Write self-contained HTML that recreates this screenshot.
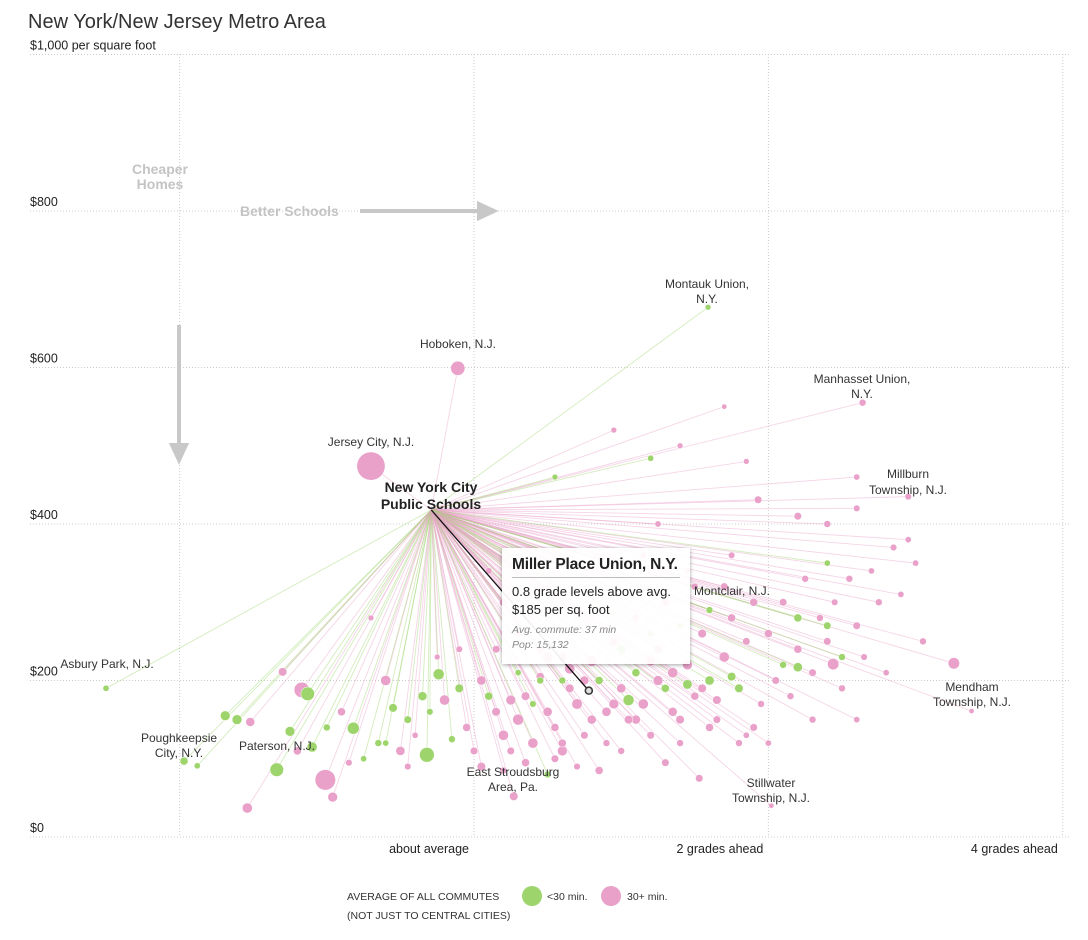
<!DOCTYPE html>
<html><head><meta charset="utf-8">
<style>
body{margin:0;background:#fff;font-family:"Liberation Sans",Arial,sans-serif;}
#wrap{position:relative;width:1088px;height:940px;overflow:hidden;}
svg{position:absolute;left:0;top:0;}
.tip{position:absolute;left:502px;top:548px;width:188px;height:116px;background:rgba(255,255,255,0.93);box-shadow:0 1px 4px rgba(0,0,0,0.35);box-sizing:border-box;padding:8px 10px;}
.tip h3{margin:0;font-size:15.5px;font-weight:bold;color:#222;border-bottom:1px solid #bbb;padding-bottom:3px;letter-spacing:-0.2px}
.tip p{margin:5px 0 0;font-size:13px;color:#222;line-height:18px}
.tip .s{font-size:10.5px;color:#888;font-style:italic;line-height:15px;margin-top:4px}
</style></head><body>
<div id="wrap">
<svg id="chart" width="1088" height="940"></svg>
<div class="tip">
<h3>Miller Place Union, N.Y.</h3>
<p>0.8 grade levels above avg.<br>$185 per sq. foot</p>
<p class="s">Avg. commute: 37 min<br>Pop: 15,132</p>
</div>
</div>
<script>
const yTicks=[0,200,400,600,800,1000];
const yTickLabels=["$0","$200","$400","$600","$800","$1,000 per square foot"];
const xTicks=[-2,0,2,4];
const xTickLabels=["","about average","2 grades ahead","4 grades ahead"];
const center=[-0.29,418];
const grades=[-0.11,-0.70,1.59,2.64,2.95,3.26,3.38,-2.50,-1.97,-1.88,-1.34,-1.01,-1.17,-1.13,0.27,2.02,-1.54,-0.32,-0.24,1.20,2.44,2.20,-0.82,-1.69,-1.61,-1.52,-1.30,1.53,-0.96,
-0.6,-0.55,-0.45,-0.5,-0.65,-0.75,-0.85,-0.9,-1.0,-1.1,-1.25,-1.2,-0.35,-0.3,-0.2,-0.1,-0.05,-0.15,0.0,-0.4,-0.25,-0.1,-0.6,-0.7,-0.45,
0.05,0.1,0.15,0.2,0.25,0.3,0.35,0.4,0.45,0.5,0.55,0.6,0.65,0.7,0.75,0.8,0.85,0.9,0.95,0.15,0.3,0.45,0.6,0.2,0.1,0.05,0.2,0.35,0.5,0.55,0.7,0.85,0.4,0.6,0.3,
1.0,1.05,1.1,1.15,1.2,1.25,1.3,1.35,1.4,1.45,1.5,1.55,1.6,1.65,1.7,1.75,1.8,1.85,1.9,1.95,1.1,1.3,1.5,1.7,1.2,1.4,1.6,1.0,1.3,1.6,1.8,1.9,1.15,1.45,1.25,1.75,1.85,
2.0,2.05,2.1,2.15,2.2,2.25,2.3,2.35,2.4,2.45,2.5,2.55,2.6,2.65,2.7,2.75,2.8,2.85,2.9,2.95,3.0,3.05,2.2,2.4,2.6,2.6,1.93,2.2,2.4,2.5,2.1,2.3,2.6,2.0,2.4,1.7,1.85,1.4,0.95,0.55,
0.65,0.9,1.05,1.25,1.4,0.5,0.75,1.0,1.35,1.55,0.25,0.45,0.8,1.1,1.45,1.65,0.6,1.2,0.95,1.75];
const prices=[599,474,677,555,435,222,161,190,97,91,86,73,188,183,52,40,37,105,208,484,221,217,139,155,150,147,211,75,51,
200,165,150,110,120,100,95,160,140,115,135,110,180,160,175,190,140,125,110,130,230,240,120,280,90,
200,180,160,130,110,150,180,120,200,160,140,110,190,170,130,150,200,120,170,240,260,240,230,300,340,90,85,95,80,100,90,85,170,200,210,
190,150,210,170,130,240,190,160,120,220,180,260,200,150,230,280,190,250,300,170,280,300,320,320,260,270,290,110,95,140,120,140,360,340,400,360,130,
260,200,300,180,240,330,210,280,250,300,190,330,270,230,340,300,210,370,310,380,350,250,410,400,420,460,431,280,270,230,220,150,150,120,350,550,480,500,520,460,
215,160,175,200,150,230,200,240,210,190,175,205,225,150,195,175,120,225,250,205];
const popsK=[50,250,3,6,5,28,2,4,10,4,45,120,60,45,12,2,20,55,25,4,28,15,32,18,18,14,12,8,18,
20,12,8,15,6,4,5,10,6,20,18,10,14,5,20,12,10,6,8,4,3,5,4,3,5,
15,10,12,20,8,25,12,20,6,15,10,18,12,22,8,14,10,6,18,8,6,10,12,10,5,12,6,10,6,8,5,10,5,6,4,
15,12,10,20,8,12,10,14,6,18,10,12,15,8,20,10,12,8,10,6,8,10,6,8,6,5,6,6,8,10,6,8,5,4,4,5,4,
10,8,8,6,10,6,8,6,8,5,6,6,8,5,4,6,4,5,4,4,4,6,8,6,5,4,8,10,8,6,6,6,4,4,4,2,3,3,3,3,
20,15,25,18,12,22,14,16,20,12,18,10,24,14,16,12,10,18,14,12];
const commute=[1,1,0,1,1,1,1,0,0,0,0,1,1,0,1,1,1,0,0,0,1,0,0,0,0,1,1,1,1,
1,0,0,1,0,0,1,1,0,0,0,1,0,0,1,0,1,0,1,1,1,1,0,1,1,
1,0,1,1,1,1,1,1,0,1,1,1,1,1,1,1,0,1,1,1,1,1,1,1,1,1,1,1,0,1,1,1,0,0,0,
1,1,0,1,1,1,0,1,1,1,1,1,0,1,1,1,0,1,1,1,1,1,1,1,0,0,0,1,1,1,1,1,1,1,1,1,1,
1,1,1,1,1,1,1,1,1,1,1,1,1,1,1,1,1,1,1,1,1,1,1,1,1,1,1,0,0,0,0,1,1,1,0,1,1,1,1,0,
1,1,0,1,1,1,1,0,1,1,1,1,1,1,0,1,1,1,1,0];
const highlight=[0.78,187];

const NS="http://www.w3.org/2000/svg";
const svg=document.getElementById('chart');
const X=g=>474+g*147.2;
const Y=p=>837-p*0.7825;
const GREEN="#9dd56c",PINK="#e9a1c9";
function mk(t,a,parent){const e=document.createElementNS(NS,t);for(const k in a)e.setAttribute(k,a[k]);(parent||svg).appendChild(e);return e;}
function txt(x,y,s,opts,name){const e=mk('text',Object.assign({x:x,y:y,'font-size':12,fill:'#333','font-family':'Liberation Sans, Arial, sans-serif'},opts||{}));e.textContent=s;


return e;}

txt(28,28,"New York/New Jersey Metro Area",{'font-size':20,fill:'#333'},'chart-title');

yTicks.forEach((v,i)=>{
 const l=mk('line',{x1:30,x2:1070,y1:Y(v),y2:Y(v),stroke:'#ccc','stroke-dasharray':'1,2'});
 
 
 txt(30,Y(v)-5,yTickLabels[i],{'font-size':12.5,fill:'#222'},'y-tick-label');
});
xTicks.forEach((v,i)=>{
 const l=mk('line',{x1:X(v),x2:X(v),y1:54,y2:837,stroke:'#ccc','stroke-dasharray':'1,2'});
 
 
 if(xTickLabels[i])txt(X(v)-5,853,xTickLabels[i],{'font-size':12.5,fill:'#222','text-anchor':'end'},'x-tick-label');
});

txt(160,174,"Cheaper",{'font-size':14,'font-weight':'bold',fill:'#c4c4c4','text-anchor':'middle'},'cheaper-homes-label');
txt(160,189,"Homes",{'font-size':14,'font-weight':'bold',fill:'#c4c4c4','text-anchor':'middle'},'cheaper-homes-label');
txt(240,216,"Better Schools",{'font-size':14,'font-weight':'bold',fill:'#c4c4c4'},'better-schools-label');
let a=mk('path',{d:'M360,211 L482,211 M479,204 L494,211 L479,218 Z',stroke:'#c8c8c8','stroke-width':4,fill:'#c8c8c8'});

a=mk('path',{d:'M179,325 L179,448 M172,445 L179,460 L186,445 Z',stroke:'#c8c8c8','stroke-width':4,fill:'#c8c8c8'});


const cx=X(center[0]),cy=Y(center[1]);
grades.forEach((g,i)=>{
 const l=mk('line',{x1:cx,y1:cy,x2:X(g),y2:Y(prices[i]),stroke:commute[i]?PINK:GREEN,'stroke-width':0.9,'stroke-opacity':0.45});
 
 
});
const order=grades.map((g,i)=>i).sort((a,b)=>popsK[b]-popsK[a]);
order.forEach(i=>{
 const c=mk('circle',{cx:X(grades[i]),cy:Y(prices[i]),r:1.5+0.8*Math.sqrt(popsK[i]),fill:commute[i]?PINK:GREEN,stroke:'#fff','stroke-width':0.5});
 
 
});
const hl=mk('line',{x1:cx,y1:cy,x2:X(highlight[0]),y2:Y(highlight[1]),stroke:'#111','stroke-width':1.3});

const hc=mk('circle',{cx:X(highlight[0]),cy:Y(highlight[1]),r:3.5,fill:'#ddd',stroke:'#333','stroke-width':1.5});


txt(431,492,"New York City",{'font-size':14,'font-weight':'bold',fill:'#222','text-anchor':'middle'},'nyc-label');
txt(431,509,"Public Schools",{'font-size':14,'font-weight':'bold',fill:'#222','text-anchor':'middle'},'nyc-label');
const labs=[[458,348,"Hoboken, N.J."],[371,446,"Jersey City, N.J."],[707,288,"Montauk Union,"],[707,303,"N.Y."],[862,383,"Manhasset Union,"],[862,398,"N.Y."],[908,478,"Millburn"],[908,494,"Township, N.J."],[972,691,"Mendham"],[972,706,"Township, N.J."],[107,668,"Asbury Park, N.J."],[179,742,"Poughkeepsie"],[179,757,"City, N.Y."],[277,750,"Paterson, N.J."],[513,776,"East Stroudsburg"],[513,791,"Area, Pa."],[771,787,"Stillwater"],[771,802,"Township, N.J."],[732,595,"Montclair, N.J."]];
labs.forEach(l=>txt(l[0],l[1],l[2],{'font-size':12,fill:'#333','text-anchor':'middle'},'point-label'));

txt(347,900,"AVERAGE OF ALL COMMUTES",{'font-size':10.5,fill:'#333'},'legend-title');
txt(347,919,"(NOT JUST TO CENTRAL CITIES)",{'font-size':10.5,fill:'#333'},'legend-subtitle');
let lc=mk('circle',{cx:532,cy:896,r:10,fill:GREEN});
txt(547,900,"<30 min.",{'font-size':10.5,fill:'#333'},'legend-entry-short');
lc=mk('circle',{cx:611,cy:896,r:10,fill:PINK});
txt(627,900,"30+ min.",{'font-size':10.5,fill:'#333'},'legend-entry-long');
</script>
</body></html>
